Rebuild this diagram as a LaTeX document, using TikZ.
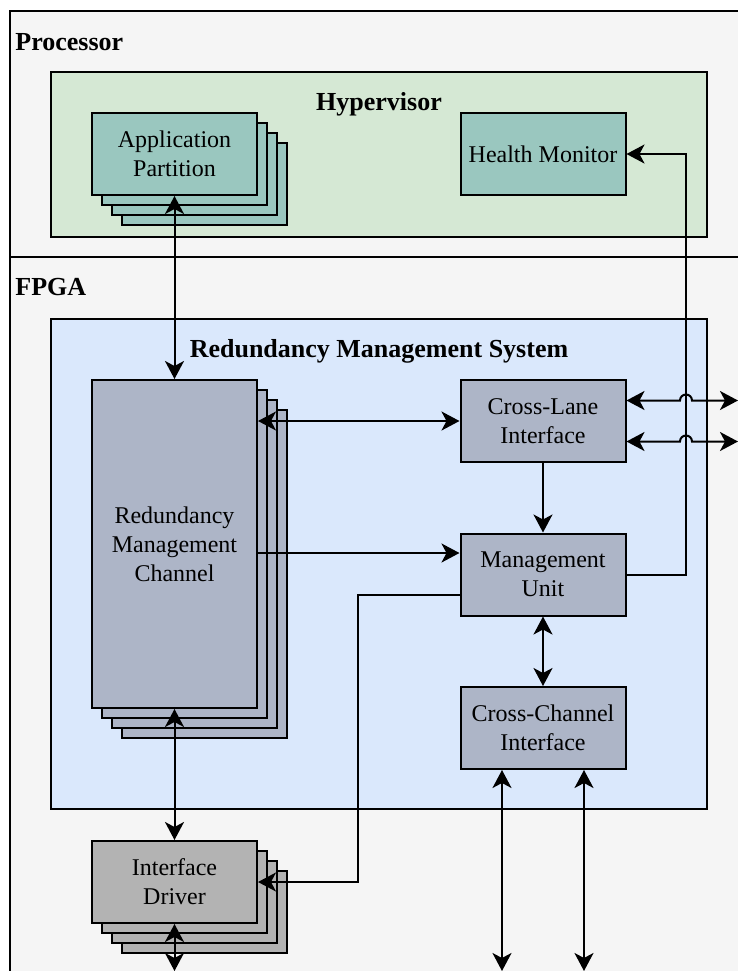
\documentclass[tikz,border=0pt]{standalone}
\usepackage{fontspec}
\setmainfont{Liberation Serif}
\usetikzlibrary{arrows.meta}

\definecolor{procbg}{HTML}{F5F5F5}
\definecolor{hypbg}{HTML}{D5E8D4}
\definecolor{appfill}{HTML}{9AC7BF}
\definecolor{rmsbg}{HTML}{DAE8FC}
\definecolor{rmfill}{HTML}{ADB5C7}
\definecolor{drvfill}{HTML}{B3B3B3}

\begin{document}
\begin{tikzpicture}[x=0.5pt,y=-0.5pt,
  box/.style={draw,line width=1pt,minimum width=82.5pt,minimum height=41pt,align=center,inner sep=2pt,font=\fontsize{12}{14.5}\selectfont},
  appbox/.style={box,fill=appfill},
  rmbox/.style={box,fill=rmfill},
  drvbox/.style={box,fill=drvfill},
  area/.style={draw,line width=1pt},
  title/.style={font=\fontsize{13}{15}\selectfont\bfseries,inner sep=0pt},
  link/.style={line width=1pt,-{Stealth[length=9pt,width=9.5pt,inset=2.5pt]}},
  both/.style={line width=1pt,{Stealth[length=9pt,width=9.5pt,inset=2.5pt]}-{Stealth[length=9pt,width=9.5pt,inset=2.5pt]}}]
  \clip (0,0) rectangle (738,971);

  % processor and fpga areas
  \draw[area,fill=procbg] (10,11) rectangle (760,257);
  \node[title,anchor=base west] (proc) at (15,50) {Processor};
  \draw[area,fill=procbg] (10,257) rectangle (760,1000);
  \node[title,anchor=base west] (fpga) at (15,295) {FPGA};
  \draw[area,fill=hypbg] (51,72) rectangle (707,237);
  \node[title,anchor=base] (hyp) at (379,110) {Hypervisor};
  \draw[area,fill=rmsbg] (51,319) rectangle (707,809);
  \node[title,anchor=base] (rms) at (379,357) {Redundancy Management System};

  % boxes
  \foreach \k in {3,2,1}
    \node[appbox,xshift=\k*5pt,yshift=-\k*5pt] at (174.5,154) {};
  \node[appbox] (app) at (174.5,154) {Application\\Partition};
  \node[appbox] (health) at (543,154) {Health Monitor};

  \foreach \k in {3,2,1}
    \node[rmbox,minimum height=164pt,xshift=\k*5pt,yshift=-\k*5pt] at (174.5,544) {};
  \node[rmbox,minimum height=164pt] (rmc) at (174.5,544) {Redundancy\\Management\\Channel};
  \node[rmbox] (lane) at (543,421) {Cross-Lane\\Interface};
  \node[rmbox] (mgmt) at (543,574.5) {Management\\Unit};
  \node[rmbox] (chan) at (543,728) {Cross-Channel\\Interface};

  \foreach \k in {3,2,1}
    \node[drvbox,xshift=\k*5pt,yshift=-\k*5pt] at (174.5,882) {};
  \node[drvbox] (drv) at (174.5,882) {Interface\\Driver};

  % loose ends
  \coordinate (hm bus) at (686,574.5);
  \coordinate (drv bus) at (358,882);
  \coordinate (drv out) at (174.5,971);
  \coordinate (chan out1) at (502,971);
  \coordinate (chan out2) at (584,971);
  \coordinate (lane out1) at (738,400.5);
  \coordinate (lane out2) at (738,441.5);

  % connectors
  \draw[both] (app.south) -- (rmc.north);
  \draw[both] (rmc.east |- lane.west) -- (lane.west);
  \draw[link] ([yshift=10.75pt]mgmt.west -| rmc.east) -- ([yshift=10.75pt]mgmt.west);
  \draw[link] (lane.south) -- (mgmt.north);
  \draw[both] (mgmt.south) -- (chan.north);
  \draw[link] (mgmt.east) -- (hm bus) |- (health.east);
  \draw[link] ([yshift=-10.25pt]mgmt.west) -| (drv bus) -- (drv.east);
  \draw[both] (rmc.south) -- (drv.north);
  \draw[both] (drv.south) -- (drv out);
  \draw[both] ([xshift=-20.5pt]chan.south) -- (chan out1);
  \draw[both] ([xshift=20.5pt]chan.south) -- (chan out2);
  \draw[both] ([yshift=10.25pt]lane.east) -- ([xshift=-3pt]hm bus |- lane out1)
    arc[start angle=180,end angle=0,radius=3pt] -- (lane out1);
  \draw[both] ([yshift=-10.25pt]lane.east) -- ([xshift=-3pt]hm bus |- lane out2)
    arc[start angle=180,end angle=0,radius=3pt] -- (lane out2);
\end{tikzpicture}
\end{document}
